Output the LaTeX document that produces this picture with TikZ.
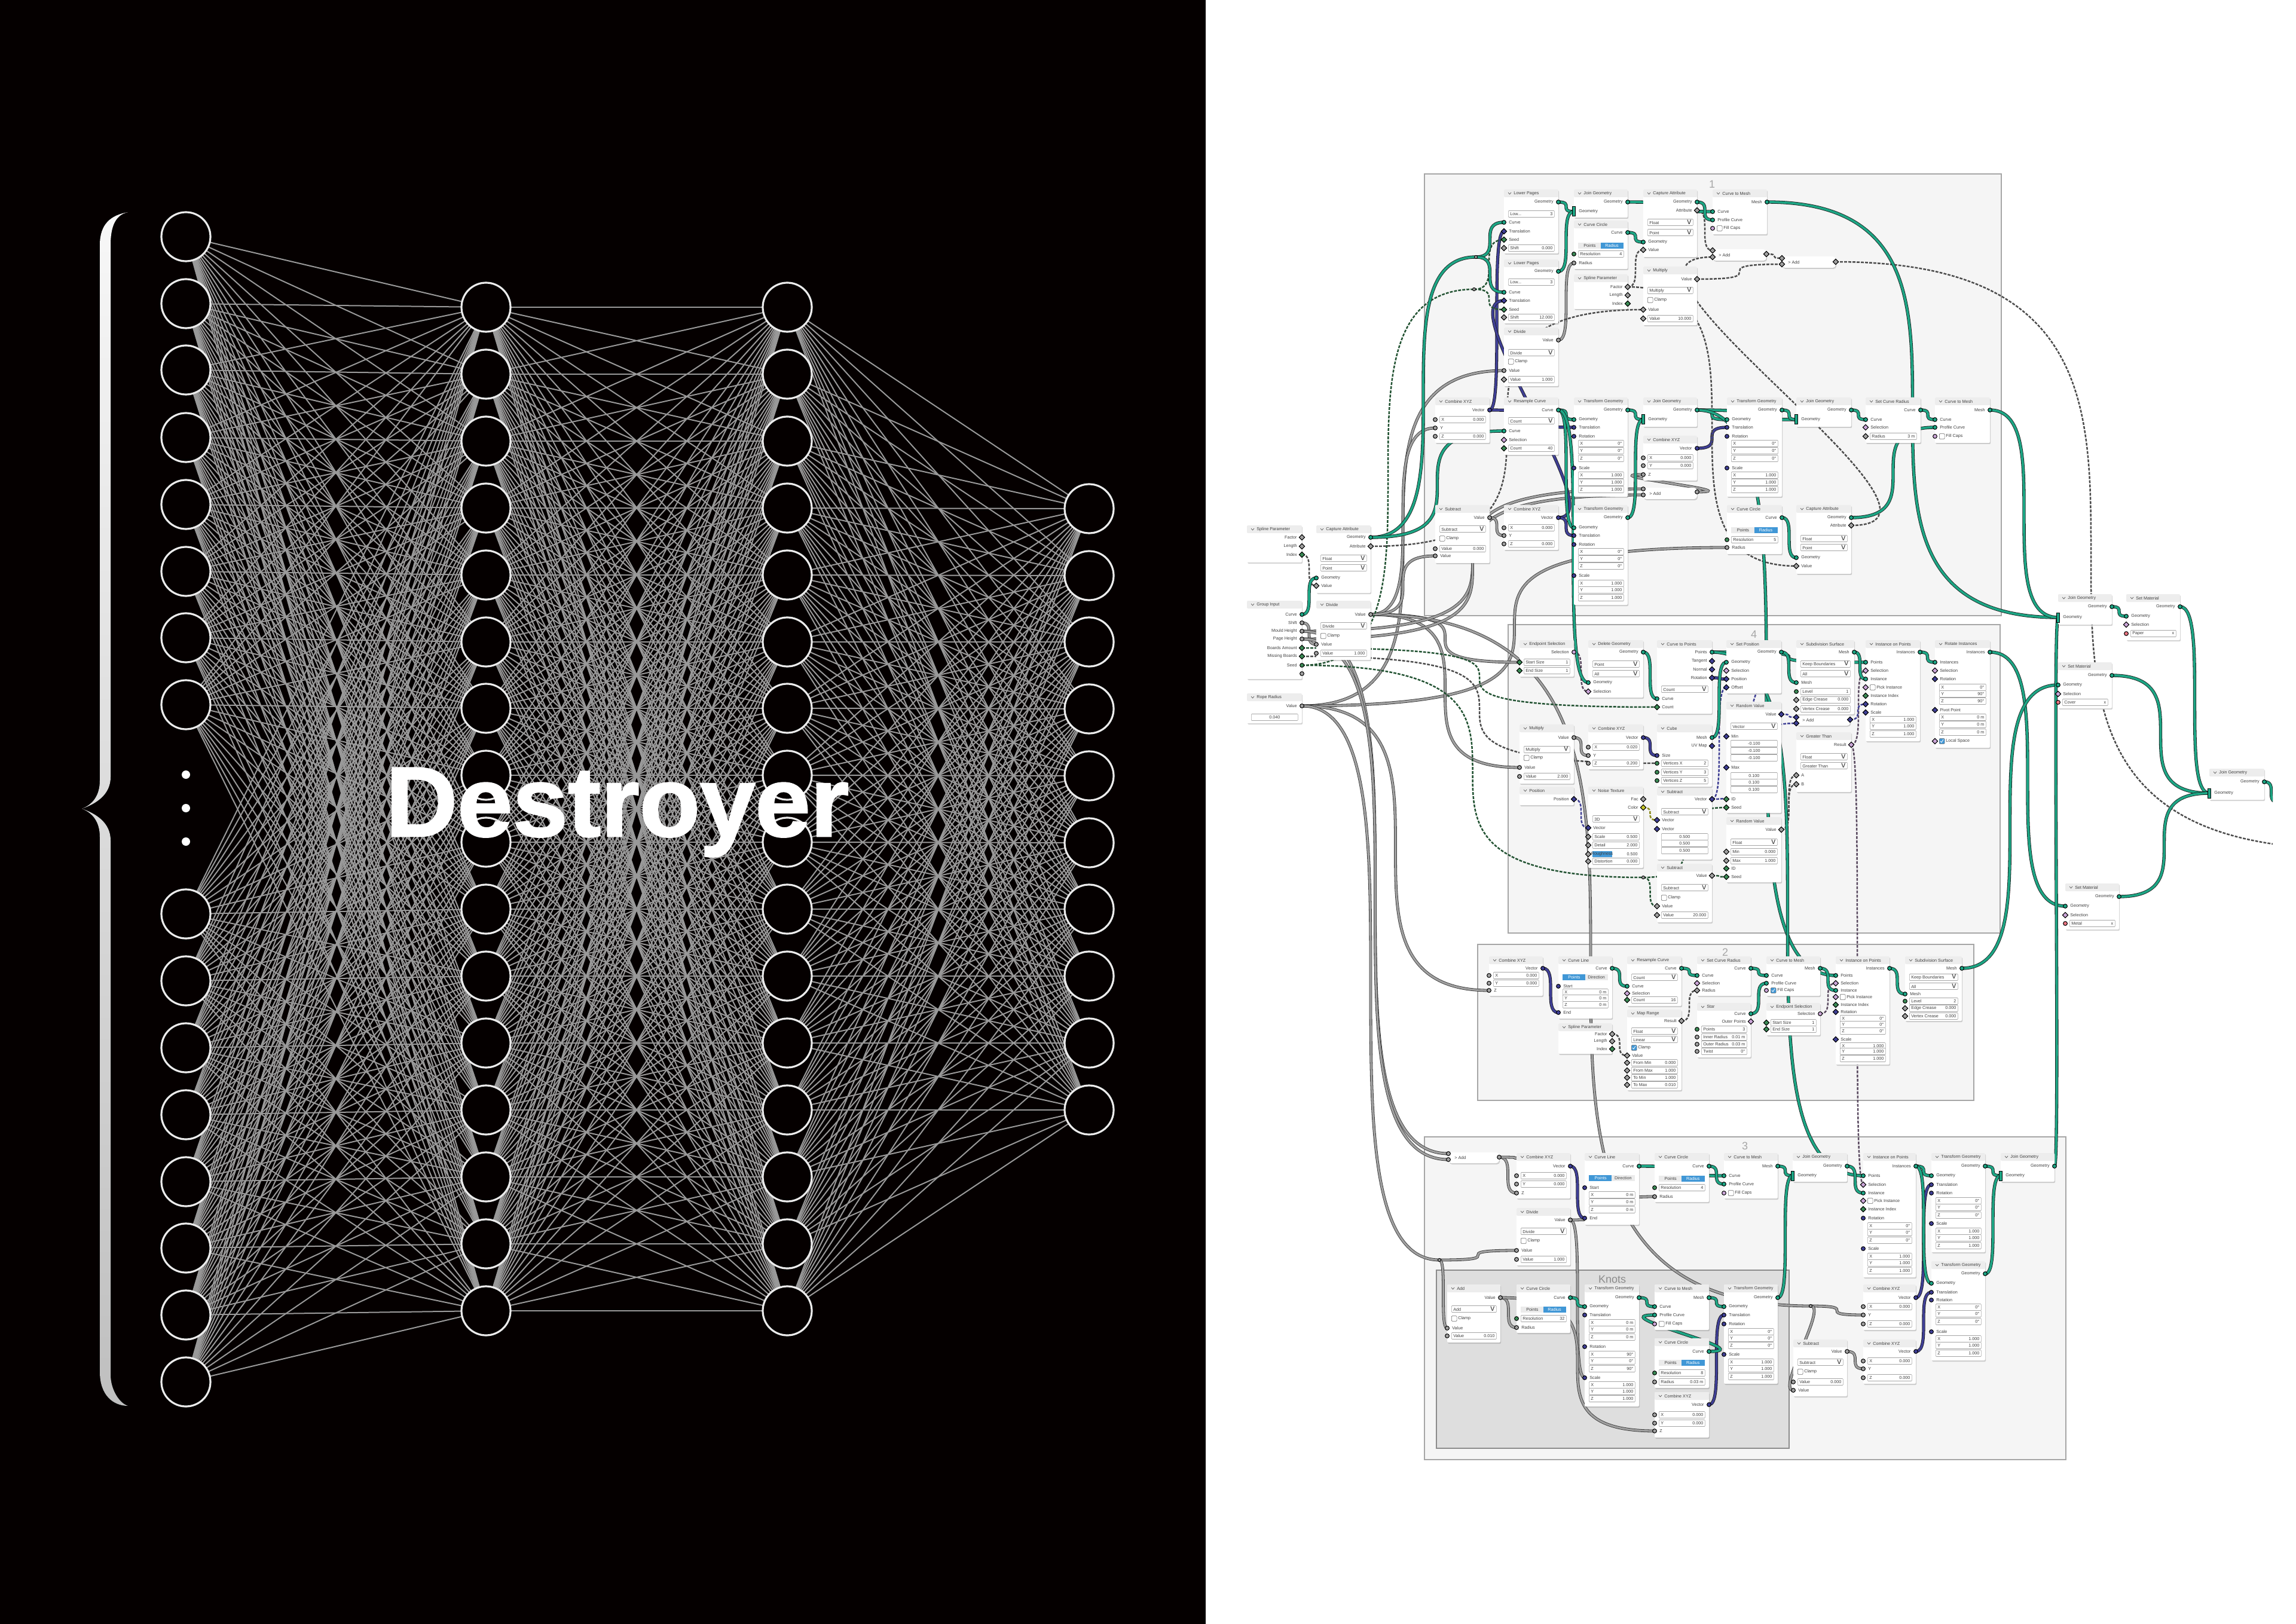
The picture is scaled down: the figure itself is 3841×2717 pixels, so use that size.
\documentclass[tikz,border=0pt]{standalone}
\usepackage{fontspec}
\setmainfont{Liberation Sans}
\newfontface\dfont[FakeBold=1.6]{Liberation Sans Bold}
\usetikzlibrary{calc, shapes.geometric, shadows}
\pgfdeclarelayer{frames}
\pgfdeclarelayer{wires}
\pgfsetlayers{frames,wires,main}

\definecolor{cgeo}{HTML}{1DA584}
\definecolor{cflo}{HTML}{A0A0A0}
\definecolor{cvec}{HTML}{3F3F95}
\definecolor{cint}{HTML}{3B8A55}
\definecolor{cboo}{HTML}{CBA6D8}
\definecolor{cmat}{HTML}{EB7582}
\definecolor{ccol}{HTML}{C7C729}
\definecolor{cblu}{HTML}{4097D6}

% one box of the node editor: name, x1, y1, x2, y2, title
\newcommand{\ndd}[6]{
    \def\gnm{#1}\def\gL{#2}\def\gR{#4}
    \pgfmathsetmacro\gw{(#4-#2-14)*.5}
    \node[gbox, minimum width={(#4-#2)*.5pt}, minimum height={(#5-#3)*.5pt}] (#1) at (#2,#3) {};
    \fill[black!7, rounded corners=1pt] (#2,#3) rectangle (#4,#3+13);
    \draw[black!70, line width=.3pt] (#2+7,#3+5) -- (#2+9.5,#3+8) -- (#2+12,#3+5);
    \node[rowt, anchor=west] (#1-t) at (#2+16,#3+6.5) {#6};
}
% collapsed box: name, x1, y1, x2, y2, title
\newcommand{\nclp}[6]{
    \def\gnm{#1}\def\gL{#2}\def\gR{#4}
    \node[gbox, rounded corners=2.5pt, minimum width={(#4-#2)*.5pt}, minimum height={(#5-#3)*.5pt}] (#1) at (#2,#3) {};
    \node[rowt, anchor=west] (#1-t) at (#2+10,{(#3+#5)/2}) {> #6};
}
\newcommand{\nout}[4]{
    \node[sk,#4] (\gnm-#1) at (\gR,#2) {};
    \node[rowt, anchor=east] (\gnm-#1-l) at (\gR-8,#2) {#3};
}
\newcommand{\ninp}[4]{
    \node[sk,#4] (\gnm-#1) at (\gL,#2) {};
    \node[rowt, anchor=west] (\gnm-#1-l) at (\gL+8,#2) {#3};
}
\newcommand{\nsok}[3]{\node[sk,#3] (\gnm-#1) at (\gL,#2) {};}
\newcommand{\nrow}[3]{
    \node[fbox] (\gnm-f#1) at (\gL+7,#1) {\makebox[\gw pt]{\kern1.5pt #2\hfill #3\kern1.5pt}};
}
\newcommand{\nfld}[5]{\nsok{#1}{#2}{#5}\nrow{#2}{#3}{#4}}
\newcommand{\ndrop}[2]{\nrow{#1}{#2}{\scriptsize v}}
\newcommand{\nxyz}[6]{\nrow{#1}{X}{#4}\nrow{#2}{Y}{#5}\nrow{#3}{Z}{#6}}
\newcommand{\nchk}[2]{
    \node[ckb] (\gnm-c#1) at (\gL+7,#1) {};
    \node[rowt, anchor=west] (\gnm-c#1-l) at (\gL+18,#1) {#2};
}
\newcommand{\nchkon}[2]{
    \node[ckb, fill=cblu] (\gnm-c#1) at (\gL+7,#1) {};
    \draw[white, line width=.4pt] (\gL+9,#1) -- (\gL+11,#1+2) -- (\gL+14,#1-3);
    \node[rowt, anchor=west] (\gnm-c#1-l) at (\gL+18,#1) {#2};
}
\newcommand{\ntab}[5]{
    \pgfmathsetmacro\hw{\gw/2}
    \node[tabb,#4,minimum width=\hw pt,anchor=west] (\gnm-tl) at (\gL+7,#1) {#2};
    \node[tabb,#5,minimum width=\hw pt,anchor=east] (\gnm-tr) at (\gR-7,#1) {#3};
}
\newcommand{\wire}[3]{\draw[#1] (#2.center) to[wire] (#3.center);}

\begin{document}
\begin{tikzpicture}[
    x=.5pt, y=-.5pt,
    panel/.style={fill=black!98!red, inner sep=0, outer sep=0, anchor=north west},
    neu/.style={circle, draw=black!8, line width=1.6pt, fill=black!98!red, minimum size=41pt, inner sep=0, outer sep=0},
    ndot/.style={circle, fill=white, minimum size=7pt, inner sep=0},
    syn/.style={draw=black!40, line width=1pt},
    frm/.style={draw=black!35, line width=1.2pt, fill=black!4, inner sep=0, anchor=north west},
    frk/.style={frm, draw=black!45, fill=black!13},
    ftxt/.style={text=black!35, font=\fontsize{9}{10}\selectfont},
    gbox/.style={anchor=north west, fill=white, rounded corners=1pt, inner sep=0, outer sep=0,
        drop shadow={shadow xshift=.6pt, shadow yshift=-1pt, opacity=.35}},
    rowt/.style={text=black!75, inner sep=0, font=\fontsize{3.6}{4}\selectfont},
    fbox/.style={rowt, anchor=west, draw=black!35, fill=white, line width=.3pt, rounded corners=.5pt, minimum height=5.5pt},
    ckb/.style={anchor=west, draw=black!60, fill=white, line width=.3pt, rounded corners=.6pt, minimum size=4.4pt, inner sep=0},
    tabb/.style={rowt, minimum height=5pt},
    tabon/.style={fill=cblu, text=white},
    taboff/.style={fill=black!8},
    sk/.style={draw=black, line width=.5pt, inner sep=0, outer sep=0},
    sgeo/.style={circle, fill=cgeo, minimum size=3.4pt},
    sjn/.style={rectangle, fill=cgeo, minimum width=2.4pt, minimum height=8pt},
    sflo/.style={circle, fill=cflo, minimum size=3.4pt},
    sint/.style={circle, fill=cint, minimum size=3.4pt},
    svec/.style={circle, fill=cvec, minimum size=3.4pt},
    sboo/.style={circle, fill=cboo, minimum size=3.4pt},
    smat/.style={circle, fill=cmat, minimum size=3.4pt},
    dflo/.style={diamond, fill=cflo, minimum size=4.6pt},
    dint/.style={diamond, fill=cint, minimum size=4.6pt},
    dvec/.style={diamond, fill=cvec, minimum size=4.6pt},
    dboo/.style={diamond, fill=cboo, minimum size=4.6pt},
    dcol/.style={diamond, fill=ccol, minimum size=4.6pt},
    rer/.style={sk, circle, fill=cflo, minimum size=2.6pt},
    wire/.style={to path={let \p1=($(\tikztotarget)-(\tikztostart)$), \n1={max(abs(\x1),5pt)} in .. controls ($(\tikztostart)+(\n1,0)$) and ($(\tikztotarget)-(\n1,0)$) .. (\tikztotarget)}},
    wgeo/.style={draw=black!90, line width=.4pt, double=cgeo, double distance=1.9pt},
    wvec/.style={draw=black!90, line width=.4pt, double=cvec, double distance=1.8pt},
    wflo/.style={draw=black!80, line width=.4pt, double=cflo, double distance=1.6pt},
    wdash/.style={line width=1.25pt, dash pattern=on 2.4pt off 1.1pt},
    wfgy/.style={wdash, draw=black!70},
    wfgr/.style={wdash, draw=cint!60!black},
    wfpu/.style={wdash, draw=cboo!45!black},
    wfin/.style={wdash, draw=cvec},
    wfye/.style={wdash, draw=ccol!70!black}
]
    \useasboundingbox (0,0) rectangle (3841,2717);

    \begin{pgfonlayer}{frames}
        \node[panel, minimum width=1008.5pt, minimum height=1358.5pt] (blackpanel) at (0,0) {};
        \node[frm, minimum width=482.5pt, minimum height=369.5pt] (frone) at (2382,290) {};
        \node[frm, minimum width=411.5pt, minimum height=258pt] (frfour) at (2522,1044) {};
        \node[frm, minimum width=415pt, minimum height=130.5pt] (frtwo) at (2471,1579) {};
        \node[frm, minimum width=536.5pt, minimum height=270pt] (frthree) at (2382,1901) {};
        \node[frk, minimum width=295pt, minimum height=149pt] (frknots) at (2402,2124) {};
    \end{pgfonlayer}
    \node[ftxt] (lblone) at (2864,308) {1};
    \node[ftxt] (lblfour) at (2934,1061) {4};
    \node[ftxt] (lbltwo) at (2886,1593) {2};
    \node[ftxt] (lblthree) at (2919,1917) {3};
    \node[ftxt, text=black!45] (lblknots) at (2697,2140) {Knots};

    % left half
    \shade[top color=black!3, bottom color=black!25] (214,355) .. controls (190,360) and (185,385) .. (185,410) -- (185,1300) .. controls (185,1330) and (160,1345) .. (137,1353) .. controls (160,1361) and (185,1376) .. (185,1406) -- (185,2300) .. controls (185,2325) and (200,2348) .. (214,2352) .. controls (190,2352) and (167,2335) .. (167,2295) -- (167,1400) .. controls (167,1375) and (155,1360) .. (137,1353) .. controls (155,1346) and (167,1331) .. (167,1306) -- (167,410) .. controls (167,375) and (185,360) .. (214,355) -- cycle;

    \foreach \y [count=\n] in {396,508,619,732,844,956,1067,1179,1529,1641,1753,1865,1977,2088,2200,2312} {
        \node[neu] (la\n) at (311,\y) {};
    }
    \foreach \y [count=\n] in {514,626,738,850,962,1074,1185,1297,1409,1521,1633,1745,1857,1969,2081,2193} {
        \node[neu] (lb\n) at (813,\y) {};
        \node[neu] (lc\n) at (1317,\y) {};
    }
    \foreach \y [count=\n] in {851,963,1074,1186,1298,1410,1521,1633,1745,1857} {
        \node[neu] (ld\n) at (1822,\y) {};
    }
    \foreach \y [count=\n] in {1296,1352,1408} {
        \node[ndot] (dot\n) at (311,\y) {};
    }
    \node[anchor=base west, inner sep=0, text=white, font=\dfont\fontsize{83}{83}\selectfont] (dtitle) at (645,1399) {Destroyer};

    % group 1
    \ndd{lpa}{2516}{317}{2607}{424}{Lower Pages}
    \nout{geo}{338}{Geometry}{sgeo}
    \nrow{358}{Low...}{3}
    \ninp{cur}{372}{Curve}{sgeo}
    \ninp{tra}{387}{Translation}{dvec}
    \ninp{see}{401}{Seed}{dint}
    \nfld{shi}{415}{Shift}{0.000}{dflo}

    \ndd{lpb}{2516}{434}{2607}{541}{Lower Pages}
    \nout{geo}{454}{Geometry}{sgeo}
    \nrow{472}{Low...}{3}
    \ninp{cur}{489}{Curve}{sgeo}
    \ninp{tra}{503}{Translation}{dvec}
    \ninp{see}{518}{Seed}{dint}
    \nfld{shi}{531}{Shift}{12.000}{dflo}

    \ndd{dva}{2516}{548}{2607}{646}{Divide}
    \nout{out}{569}{Value}{sflo}
    \ndrop{590}{Divide}
    \nchk{605}{Clamp}
    \ninp{val}{620}{Value}{sflo}
    \nfld{vab}{635}{Value}{1.000}{dflo}

    \ndd{jna}{2633}{317}{2723}{364}{Join Geometry}
    \nout{geo}{338}{Geometry}{sgeo}
    \ninp{gin}{354}{Geometry}{sjn}

    \ndd{cca}{2633}{369}{2723}{450}{Curve Circle}
    \nout{cur}{389}{Curve}{sgeo}
    \ntab{411}{Points}{Radius}{taboff}{tabon}
    \nfld{res}{425}{Resolution}{4}{sint}
    \ninp{rad}{440}{Radius}{sflo}

    \ndd{spa}{2633}{459}{2723}{517}{Spline Parameter}
    \nout{fac}{480}{Factor}{dflo}
    \nout{len}{494}{Length}{dflo}
    \nout{ind}{508}{Index}{dint}

    \ndd{caa}{2749}{317}{2839}{430}{Capture Attribute}
    \nout{geo}{338}{Geometry}{sgeo}
    \nout{att}{352}{Attribute}{dflo}
    \ndrop{372}{Float}
    \ndrop{389}{Point}
    \ninp{gin}{405}{Geometry}{sgeo}
    \ninp{val}{418}{Value}{dflo}

    \ndd{mua}{2749}{446}{2839}{544}{Multiply}
    \nout{out}{467}{Value}{dflo}
    \ndrop{486}{Multiply}
    \nchk{502}{Clamp}
    \ninp{val}{518}{Value}{dflo}
    \nfld{vab}{533}{Value}{10.000}{dflo}

    \ndd{cma}{2865}{317}{2956}{392}{Curve to Mesh}
    \nout{mes}{338}{Mesh}{sgeo}
    \ninp{cur}{354}{Curve}{sgeo}
    \ninp{pro}{368}{Profile Curve}{sgeo}
    \nsok{fil}{382}{sboo}
    \nchk{382}{Fill Caps}

    \nclp{ada}{2865}{417}{2955}{436}{Add}
    \nsok{a}{419}{dflo}
    \nsok{b}{430}{dflo}
    \nout{out}{425}{}{dflo}

    \nclp{adb}{2981}{429}{3071}{448}{Add}
    \nsok{a}{432}{dflo}
    \nsok{b}{442}{dflo}
    \nout{out}{438}{}{dflo}

    \ndd{cba}{2401}{665}{2492}{741}{Combine XYZ}
    \nout{vec}{686}{Vector}{svec}
    \nfld{x}{702}{X}{0.000}{sflo}
    \ninp{y}{716}{Y}{sflo}
    \nfld{z}{730}{Z}{0.000}{sflo}

    \ndd{rsa}{2516}{665}{2607}{761}{Resample Curve}
    \nout{cur}{686}{Curve}{sgeo}
    \ndrop{704}{Count}
    \ninp{cin}{721}{Curve}{sgeo}
    \ninp{sel}{736}{Selection}{dboo}
    \nfld{cnt}{750}{Count}{40}{dint}

    \ndd{tga}{2633}{665}{2723}{831}{Transform Geometry}
    \nout{geo}{686}{Geometry}{sgeo}
    \ninp{gin}{702}{Geometry}{sgeo}
    \ninp{tra}{715}{Translation}{svec}
    \ninp{rot}{730}{Rotation}{svec}
    \nxyz{742}{754}{767}{0°}{0°}{0°}
    \ninp{sca}{783}{Scale}{svec}
    \nxyz{795}{807}{819}{1.000}{1.000}{1.000}

    \ndd{jnb}{2749}{665}{2839}{714}{Join Geometry}
    \nout{geo}{686}{Geometry}{sgeo}
    \ninp{gin}{702}{Geometry}{sjn}

    \ndd{cbb}{2749}{729}{2839}{804}{Combine XYZ}
    \nout{vec}{750}{Vector}{svec}
    \nfld{x}{766}{X}{0.000}{sflo}
    \nfld{y}{779}{Y}{0.000}{sflo}
    \ninp{z}{794}{Z}{sflo}

    \nclp{adc}{2749}{816}{2839}{835}{Add}
    \nsok{a}{818}{sflo}
    \nsok{b}{828}{sflo}
    \nout{out}{823}{}{sflo}

    \ndd{tgb}{2889}{665}{2981}{831}{Transform Geometry}
    \nout{geo}{686}{Geometry}{sgeo}
    \ninp{gin}{702}{Geometry}{sgeo}
    \ninp{tra}{715}{Translation}{svec}
    \ninp{rot}{730}{Rotation}{svec}
    \nxyz{742}{754}{767}{0°}{0°}{0°}
    \ninp{sca}{783}{Scale}{svec}
    \nxyz{795}{807}{819}{1.000}{1.000}{1.000}

    \ndd{jnc}{3005}{665}{3097}{714}{Join Geometry}
    \nout{geo}{686}{Geometry}{sgeo}
    \ninp{gin}{702}{Geometry}{sjn}

    \ndd{sra}{3121}{665}{3213}{741}{Set Curve Radius}
    \nout{cur}{686}{Curve}{sgeo}
    \ninp{cin}{702}{Curve}{sgeo}
    \ninp{sel}{715}{Selection}{dboo}
    \nfld{rad}{730}{Radius}{3 m}{dflo}

    \ndd{cmb}{3237}{665}{3329}{741}{Curve to Mesh}
    \nout{mes}{686}{Mesh}{sgeo}
    \ninp{cur}{702}{Curve}{sgeo}
    \ninp{pro}{715}{Profile Curve}{sgeo}
    \nsok{fil}{730}{sboo}
    \nchk{730}{Fill Caps}

    \ndd{sba}{2401}{845}{2492}{942}{Subtract}
    \nout{out}{866}{Value}{sflo}
    \ndrop{885}{Subtract}
    \nchk{901}{Clamp}
    \nfld{vab}{918}{Value}{0.000}{sflo}
    \ninp{val}{930}{Value}{sflo}

    \ndd{cbc}{2516}{845}{2607}{920}{Combine XYZ}
    \nout{vec}{866}{Vector}{svec}
    \nfld{x}{883}{X}{0.000}{sflo}
    \ninp{y}{896}{Y}{sflo}
    \nfld{z}{910}{Z}{0.000}{sflo}

    \ndd{tgc}{2633}{845}{2723}{1012}{Transform Geometry}
    \nout{geo}{866}{Geometry}{sgeo}
    \ninp{gin}{883}{Geometry}{sgeo}
    \ninp{tra}{896}{Translation}{svec}
    \ninp{rot}{911}{Rotation}{svec}
    \nxyz{923}{935}{947}{0°}{0°}{0°}
    \ninp{sca}{963}{Scale}{svec}
    \nxyz{976}{987}{1000}{1.000}{1.000}{1.000}

    \ndd{ccb}{2889}{845}{2981}{927}{Curve Circle}
    \nout{cur}{866}{Curve}{sgeo}
    \ntab{887}{Points}{Radius}{taboff}{tabon}
    \nfld{res}{903}{Resolution}{5}{sint}
    \ninp{rad}{916}{Radius}{sflo}

    \ndd{cab}{3005}{845}{3097}{960}{Capture Attribute}
    \nout{geo}{866}{Geometry}{sgeo}
    \nout{att}{879}{Attribute}{dflo}
    \ndrop{901}{Float}
    \ndrop{916}{Point}
    \ninp{gin}{933}{Geometry}{sgeo}
    \ninp{val}{947}{Value}{dflo}

    % inputs on the left
    \ndd{spb}{2086}{879}{2178}{941}{Spline Parameter}
    \nout{fac}{899}{Factor}{dflo}
    \nout{len}{914}{Length}{dflo}
    \nout{ind}{928}{Index}{dint}

    \ndd{cac}{2202}{879}{2293}{992}{Capture Attribute}
    \nout{geo}{899}{Geometry}{sgeo}
    \nout{att}{914}{Attribute}{dflo}
    \ndrop{934}{Float}
    \ndrop{950}{Point}
    \ninp{gin}{967}{Geometry}{sgeo}
    \ninp{val}{980}{Value}{dflo}

    \ndd{gin}{2086}{1005}{2178}{1136}{Group Input}
    \nout{cur}{1028}{Curve}{sgeo}
    \nout{shi}{1042}{Shift}{sflo}
    \nout{mou}{1056}{Mould Height}{sflo}
    \nout{pag}{1069}{Page Height}{sflo}
    \nout{boa}{1084}{Boards Amount}{dint}
    \nout{mis}{1098}{Missing Boards}{dint}
    \nout{see}{1113}{Seed}{sint}
    \nout{emp}{1127}{}{sflo}

    \ndd{dvb}{2202}{1005}{2293}{1104}{Divide}
    \nout{out}{1028}{Value}{sflo}
    \ndrop{1047}{Divide}
    \nchk{1064}{Clamp}
    \ninp{val}{1078}{Value}{sflo}
    \nfld{vab}{1093}{Value}{1.000}{sflo}

    \ndd{rop}{2086}{1160}{2178}{1210}{Rope Radius}
    \nout{val}{1181}{Value}{sflo}
    \nrow{1200}{\hfill 0.040}{}

    % group 4
    \ndd{epa}{2542}{1071}{2633}{1132}{Endpoint Selection}
    \nout{sel}{1091}{Selection}{sboo}
    \nfld{sta}{1108}{Start Size}{1}{dint}
    \nfld{end}{1122}{End Size}{1}{dint}

    \ndd{dga}{2657}{1071}{2749}{1167}{Delete Geometry}
    \nout{geo}{1091}{Geometry}{sgeo}
    \ndrop{1111}{Point}
    \ndrop{1127}{All}
    \ninp{gin}{1142}{Geometry}{sgeo}
    \ninp{sel}{1157}{Selection}{dboo}

    \ndd{cpa}{2772}{1071}{2864}{1194}{Curve to Points}
    \nout{poi}{1091}{Points}{sgeo}
    \nout{tan}{1106}{Tangent}{dvec}
    \nout{nor}{1120}{Normal}{dvec}
    \nout{rot}{1134}{Rotation}{dvec}
    \ndrop{1153}{Count}
    \ninp{cur}{1169}{Curve}{sgeo}
    \ninp{cnt}{1183}{Count}{dint}

    \ndd{spo}{2888}{1071}{2980}{1160}{Set Position}
    \nout{geo}{1091}{Geometry}{sgeo}
    \ninp{gin}{1108}{Geometry}{sgeo}
    \ninp{sel}{1122}{Selection}{dboo}
    \ninp{pos}{1136}{Position}{dvec}
    \ninp{off}{1150}{Offset}{dvec}

    \nclp{add}{3005}{1195}{3095}{1214}{Add}
    \nsok{a}{1200}{dvec}
    \nsok{b}{1210}{dvec}
    \nout{out}{1204}{}{dvec}

    \ndd{sda}{3005}{1071}{3102}{1195}{Subdivision Surface}
    \nout{mes}{1091}{Mesh}{sgeo}
    \ndrop{1111}{Keep Boundaries}
    \ndrop{1127}{All}
    \ninp{min}{1142}{Mesh}{sgeo}
    \nfld{lev}{1157}{Level}{1}{sint}
    \nfld{edg}{1171}{Edge Crease}{0.000}{dflo}
    \nfld{ver}{1186}{Vertex Crease}{0.000}{dflo}

    \ndd{ipa}{3121}{1071}{3212}{1240}{Instance on Points}
    \nout{out}{1091}{Instances}{sgeo}
    \ninp{poi}{1108}{Points}{sgeo}
    \ninp{sel}{1122}{Selection}{dboo}
    \ninp{ins}{1136}{Instance}{sgeo}
    \nsok{pic}{1150}{dboo}
    \nchk{1150}{Pick Instance}
    \ninp{ind}{1164}{Instance Index}{dint}
    \ninp{rot}{1178}{Rotation}{dvec}
    \ninp{sca}{1192}{Scale}{dvec}
    \nxyz{1204}{1215}{1228}{1.000}{1.000}{1.000}

    \ndd{ria}{3237}{1071}{3329}{1251}{Rotate Instances}
    \nout{out}{1091}{Instances}{sgeo}
    \ninp{ins}{1108}{Instances}{sgeo}
    \ninp{sel}{1122}{Selection}{dboo}
    \ninp{rot}{1136}{Rotation}{dvec}
    \nxyz{1150}{1161}{1173}{0°}{90°}{90°}
    \ninp{piv}{1188}{Pivot Point}{dvec}
    \nxyz{1200}{1212}{1225}{0 m}{0 m}{0 m}
    \nsok{loc}{1240}{dboo}
    \nchkon{1240}{Local Space}

    \ndd{gta}{3005}{1225}{3097}{1325}{Greater Than}
    \nout{res}{1246}{Result}{dboo}
    \ndrop{1266}{Float}
    \ndrop{1281}{Greater Than}
    \ninp{a}{1297}{A}{dflo}
    \ninp{b}{1312}{B}{dflo}

    \ndd{rva}{2888}{1174}{2980}{1360}{Random Value}
    \nout{val}{1195}{Value}{dvec}
    \ndrop{1215}{Vector}
    \ninp{min}{1232}{Min}{dvec}
    \nrow{1244}{\hfill -0.100}{}
    \nrow{1256}{\hfill -0.100}{}
    \nrow{1268}{\hfill -0.100}{}
    \ninp{max}{1284}{Max}{dvec}
    \nrow{1298}{\hfill 0.100}{}
    \nrow{1309}{\hfill 0.100}{}
    \nrow{1321}{\hfill 0.100}{}
    \ninp{idn}{1337}{ID}{dint}
    \ninp{see}{1351}{Seed}{dint}

    \ndd{rvb}{2888}{1367}{2980}{1476}{Random Value}
    \nout{val}{1388}{Value}{dflo}
    \ndrop{1409}{Float}
    \nfld{min}{1425}{Min}{0.000}{dflo}
    \nfld{max}{1440}{Max}{1.000}{dflo}
    \ninp{idn}{1453}{ID}{dint}
    \ninp{see}{1467}{Seed}{dint}

    \ndd{mub}{2542}{1212}{2633}{1311}{Multiply}
    \nout{out}{1234}{Value}{sflo}
    \ndrop{1254}{Multiply}
    \nchk{1268}{Clamp}
    \ninp{val}{1284}{Value}{sflo}
    \nfld{vab}{1299}{Value}{2.000}{sflo}

    \ndd{cbd}{2657}{1212}{2749}{1287}{Combine XYZ}
    \nout{vec}{1234}{Vector}{svec}
    \nfld{x}{1250}{X}{0.020}{sflo}
    \ninp{y}{1264}{Y}{sflo}
    \nfld{z}{1277}{Z}{0.200}{sflo}

    \ndd{sbb}{2772}{1318}{2864}{1438}{Subtract}
    \nout{out}{1337}{Vector}{dvec}
    \ndrop{1358}{Subtract}
    \ninp{vea}{1372}{Vector}{dvec}
    \ninp{veb}{1387}{Vector}{dvec}
    \nrow{1400}{\hfill 0.500}{}
    \nrow{1411}{\hfill 0.500}{}
    \nrow{1423}{\hfill 0.500}{}

    \ndd{cub}{2772}{1212}{2864}{1316}{Cube}
    \nout{mes}{1234}{Mesh}{sgeo}
    \nout{uvm}{1248}{UV Map}{dvec}
    \ninp{siz}{1264}{Size}{svec}
    \nfld{vx}{1277}{Vertices X}{2}{sint}
    \nfld{vy}{1292}{Vertices Y}{3}{sint}
    \nfld{vz}{1306}{Vertices Z}{5}{sint}

    \ndd{pos}{2542}{1316}{2633}{1347}{Position}
    \nout{pos}{1337}{Position}{dvec}

    \ndd{noi}{2657}{1316}{2749}{1452}{Noise Texture}
    \nout{fac}{1337}{Fac}{dflo}
    \nout{col}{1351}{Color}{dcol}
    \ndrop{1370}{3D}
    \ninp{vec}{1385}{Vector}{dvec}
    \nfld{sca}{1400}{Scale}{0.500}{dflo}
    \nfld{det}{1414}{Detail}{2.000}{dflo}
    \fill[cblu] (2664,1424) rectangle (2697,1434);
    \nsok{rou}{1429}{dflo}
    \node[rowt] (noi-rt) at (2680,1429) {Roughness};
    \node[rowt, anchor=east] (noi-rv) at (2740,1429) {0.500};
    \nfld{dis}{1441}{Distortion}{0.000}{dflo}

    \ndd{sbc}{2772}{1445}{2864}{1543}{Subtract}
    \nout{out}{1465}{Value}{dflo}
    \ndrop{1485}{Subtract}
    \nchk{1502}{Clamp}
    \ninp{val}{1516}{Value}{dflo}
    \nfld{vab}{1531}{Value}{20.000}{dflo}

    % group 2
    \ndd{cbe}{2491}{1600}{2581}{1666}{Combine XYZ}
    \nout{vec}{1620}{Vector}{svec}
    \nfld{x}{1632}{X}{0.000}{sflo}
    \nfld{y}{1645}{Y}{0.000}{sflo}
    \ninp{z}{1657}{Z}{sflo}

    \ndd{cla}{2607}{1600}{2697}{1704}{Curve Line}
    \nout{cur}{1620}{Curve}{sgeo}
    \ntab{1635}{Points}{Direction}{tabon}{taboff}
    \ninp{sta}{1650}{Start}{svec}
    \nxyz{1660}{1670}{1681}{0 m}{0 m}{0 m}
    \ninp{end}{1694}{End}{svec}

    \ndd{spc}{2607}{1712}{2697}{1763}{Spline Parameter}
    \nout{fac}{1730}{Factor}{dflo}
    \nout{len}{1742}{Length}{dflo}
    \nout{ind}{1755}{Index}{dint}

    \ndd{rsb}{2722}{1600}{2813}{1683}{Resample Curve}
    \nout{cur}{1620}{Curve}{sgeo}
    \ndrop{1635}{Count}
    \ninp{cin}{1650}{Curve}{sgeo}
    \ninp{sel}{1662}{Selection}{dboo}
    \nfld{cnt}{1673}{Count}{16}{dint}

    \ndd{mra}{2722}{1689}{2813}{1824}{Map Range}
    \nout{res}{1708}{Result}{dflo}
    \ndrop{1725}{Float}
    \ndrop{1739}{Linear}
    \nchkon{1753}{Clamp}
    \ninp{val}{1766}{Value}{dflo}
    \nfld{fmi}{1778}{From Min}{0.000}{dflo}
    \nfld{fma}{1791}{From Max}{1.000}{dflo}
    \nfld{tmi}{1803}{To Min}{1.000}{dflo}
    \nfld{tma}{1815}{To Max}{0.010}{dflo}

    \ndd{srb}{2839}{1600}{2929}{1666}{Set Curve Radius}
    \nout{cur}{1620}{Curve}{sgeo}
    \ninp{cin}{1632}{Curve}{sgeo}
    \ninp{sel}{1645}{Selection}{dboo}
    \ninp{rad}{1657}{Radius}{dflo}

    \ndd{sta}{2839}{1678}{2929}{1769}{Star}
    \nout{cur}{1696}{Curve}{sgeo}
    \nout{out}{1709}{Outer Points}{dboo}
    \nfld{poi}{1722}{Points}{3}{sint}
    \nfld{inn}{1735}{Inner Radius}{0.01 m}{sflo}
    \nfld{oru}{1747}{Outer Radius}{0.03 m}{sflo}
    \nfld{twi}{1759}{Twist}{0°}{sflo}

    \ndd{cmc}{2955}{1600}{3045}{1666}{Curve to Mesh}
    \nout{mes}{1620}{Mesh}{sgeo}
    \ninp{cur}{1632}{Curve}{sgeo}
    \ninp{pro}{1645}{Profile Curve}{sgeo}
    \nsok{fil}{1657}{sboo}
    \nchkon{1657}{Fill Caps}

    \ndd{epb}{2955}{1678}{3045}{1732}{Endpoint Selection}
    \nout{sel}{1696}{Selection}{sboo}
    \nfld{sta}{1711}{Start Size}{1}{dint}
    \nfld{end}{1722}{End Size}{1}{dint}

    \ndd{ipb}{3071}{1600}{3161}{1781}{Instance on Points}
    \nout{out}{1620}{Instances}{sgeo}
    \ninp{poi}{1632}{Points}{sgeo}
    \ninp{sel}{1645}{Selection}{dboo}
    \ninp{ins}{1657}{Instance}{sgeo}
    \nsok{pic}{1668}{dboo}
    \nchk{1668}{Pick Instance}
    \ninp{ind}{1681}{Instance Index}{dint}
    \ninp{rot}{1693}{Rotation}{dvec}
    \nxyz{1704}{1714}{1725}{0°}{0°}{0°}
    \ninp{sca}{1739}{Scale}{dvec}
    \nxyz{1750}{1759}{1771}{1.000}{1.000}{1.000}

    \ndd{sdb}{3187}{1600}{3282}{1708}{Subdivision Surface}
    \nout{mes}{1620}{Mesh}{sgeo}
    \ndrop{1635}{Keep Boundaries}
    \ndrop{1650}{All}
    \ninp{min}{1663}{Mesh}{sgeo}
    \nfld{lev}{1675}{Level}{2}{sint}
    \nfld{edg}{1687}{Edge Crease}{0.000}{dflo}
    \nfld{ver}{1700}{Vertex Crease}{0.000}{dflo}

    % group 3
    \nclp{ade}{2423}{1928}{2508}{1946}{Add}
    \nsok{a}{1930}{sflo}
    \nsok{b}{1940}{sflo}
    \nout{out}{1936}{}{sflo}

    \ndd{cbf}{2537}{1929}{2627}{2005}{Combine XYZ}
    \nout{vec}{1951}{Vector}{svec}
    \nfld{x}{1967}{X}{0.000}{sflo}
    \nfld{y}{1981}{Y}{0.000}{sflo}
    \ninp{z}{1996}{Z}{sflo}

    \ndd{clb}{2651}{1929}{2742}{2049}{Curve Line}
    \nout{cur}{1951}{Curve}{sgeo}
    \ntab{1971}{Points}{Direction}{tabon}{taboff}
    \ninp{sta}{1987}{Start}{svec}
    \nxyz{1999}{2011}{2024}{0 m}{0 m}{0 m}
    \ninp{end}{2038}{End}{svec}

    \ndd{ccc}{2768}{1929}{2859}{2011}{Curve Circle}
    \nout{cur}{1951}{Curve}{sgeo}
    \ntab{1972}{Points}{Radius}{taboff}{tabon}
    \nfld{res}{1987}{Resolution}{4}{sint}
    \ninp{rad}{2002}{Radius}{sflo}

    \ndd{cmd}{2884}{1929}{2974}{2005}{Curve to Mesh}
    \nout{mes}{1951}{Mesh}{sgeo}
    \ninp{cur}{1967}{Curve}{sgeo}
    \ninp{pro}{1981}{Profile Curve}{sgeo}
    \nsok{fil}{1996}{sboo}
    \nchk{1996}{Fill Caps}

    \ndd{jnd}{2999}{1929}{3090}{1977}{Join Geometry}
    \nout{geo}{1951}{Geometry}{sgeo}
    \ninp{gin}{1967}{Geometry}{sjn}

    \ndd{ipc}{3117}{1929}{3205}{2137}{Instance on Points}
    \nout{out}{1951}{Instances}{sgeo}
    \ninp{poi}{1967}{Points}{sgeo}
    \ninp{sel}{1982}{Selection}{dboo}
    \ninp{ins}{1996}{Instance}{sgeo}
    \nsok{pic}{2009}{dboo}
    \nchk{2009}{Pick Instance}
    \ninp{ind}{2023}{Instance Index}{dint}
    \ninp{rot}{2038}{Rotation}{svec}
    \nxyz{2051}{2062}{2075}{0°}{0°}{0°}
    \ninp{sca}{2089}{Scale}{svec}
    \nxyz{2102}{2113}{2126}{1.000}{1.000}{1.000}

    \ndd{tgd}{3231}{1929}{3321}{2095}{Transform Geometry}
    \nout{geo}{1951}{Geometry}{sgeo}
    \ninp{gin}{1967}{Geometry}{sgeo}
    \ninp{tra}{1982}{Translation}{svec}
    \ninp{rot}{1996}{Rotation}{svec}
    \nxyz{2009}{2020}{2033}{0°}{0°}{0°}
    \ninp{sca}{2047}{Scale}{svec}
    \nxyz{2060}{2071}{2084}{1.000}{1.000}{1.000}

    \ndd{jne}{3347}{1929}{3437}{1977}{Join Geometry}
    \nout{geo}{1951}{Geometry}{sgeo}
    \ninp{gin}{1967}{Geometry}{sjn}

    \ndd{dvc}{2537}{2021}{2627}{2117}{Divide}
    \nout{out}{2041}{Value}{sflo}
    \ndrop{2060}{Divide}
    \nchk{2076}{Clamp}
    \ninp{val}{2092}{Value}{sflo}
    \nfld{vab}{2107}{Value}{1.000}{sflo}

    \ndd{tge}{3231}{2110}{3321}{2276}{Transform Geometry}
    \nout{geo}{2131}{Geometry}{sgeo}
    \ninp{gin}{2147}{Geometry}{sgeo}
    \ninp{tra}{2162}{Translation}{svec}
    \ninp{rot}{2175}{Rotation}{svec}
    \nxyz{2187}{2198}{2211}{0°}{0°}{0°}
    \ninp{sca}{2228}{Scale}{svec}
    \nxyz{2240}{2251}{2264}{1.000}{1.000}{1.000}

    \ndd{cbg}{3117}{2149}{3205}{2225}{Combine XYZ}
    \nout{vec}{2171}{Vector}{svec}
    \nfld{x}{2186}{X}{0.000}{sflo}
    \ninp{y}{2200}{Y}{sflo}
    \nfld{z}{2215}{Z}{0.000}{sflo}

    \ndd{cbh}{3117}{2241}{3205}{2315}{Combine XYZ}
    \nout{vec}{2261}{Vector}{svec}
    \nfld{x}{2277}{X}{0.000}{sflo}
    \ninp{y}{2290}{Y}{sflo}
    \nfld{z}{2305}{Z}{0.000}{sflo}

    \ndd{sbd}{3000}{2241}{3090}{2336}{Subtract}
    \nout{out}{2261}{Value}{sflo}
    \ndrop{2279}{Subtract}
    \nchk{2295}{Clamp}
    \nfld{vab}{2312}{Value}{0.000}{sflo}
    \ninp{val}{2326}{Value}{sflo}

    % knots
    \ndd{adf}{2421}{2149}{2510}{2246}{Add}
    \nout{out}{2171}{Value}{sflo}
    \ndrop{2190}{Add}
    \nchk{2206}{Clamp}
    \ninp{val}{2222}{Value}{sflo}
    \nfld{vab}{2235}{Value}{0.010}{sflo}

    \ndd{ccd}{2537}{2149}{2627}{2230}{Curve Circle}
    \nout{cur}{2171}{Curve}{sgeo}
    \ntab{2191}{Points}{Radius}{taboff}{tabon}
    \nfld{res}{2206}{Resolution}{32}{sint}
    \ninp{rad}{2221}{Radius}{sflo}

    \ndd{tgf}{2651}{2149}{2742}{2353}{Transform Geometry}
    \nout{geo}{2171}{Geometry}{sgeo}
    \ninp{gin}{2186}{Geometry}{sgeo}
    \ninp{tra}{2200}{Translation}{svec}
    \nxyz{2213}{2224}{2237}{0 m}{0 m}{0 m}
    \ninp{rot}{2253}{Rotation}{svec}
    \nxyz{2266}{2277}{2290}{90°}{0°}{90°}
    \ninp{sca}{2305}{Scale}{svec}
    \nxyz{2317}{2328}{2340}{1.000}{1.000}{1.000}

    \ndd{cme}{2768}{2149}{2859}{2225}{Curve to Mesh}
    \nout{mes}{2171}{Mesh}{sgeo}
    \ninp{cur}{2186}{Curve}{sgeo}
    \ninp{pro}{2200}{Profile Curve}{sgeo}
    \nsok{fil}{2215}{sboo}
    \nchk{2215}{Fill Caps}

    \ndd{cce}{2768}{2239}{2859}{2322}{Curve Circle}
    \nout{cur}{2261}{Curve}{sgeo}
    \ntab{2280}{Points}{Radius}{taboff}{tabon}
    \nfld{res}{2297}{Resolution}{8}{sint}
    \nfld{rad}{2312}{Radius}{0.03 m}{sflo}

    \ndd{cbi}{2768}{2329}{2859}{2405}{Combine XYZ}
    \nout{vec}{2350}{Vector}{svec}
    \nfld{x}{2367}{X}{0.000}{sflo}
    \nfld{y}{2381}{Y}{0.000}{sflo}
    \ninp{z}{2394}{Z}{sflo}

    \ndd{tgg}{2884}{2149}{2974}{2315}{Transform Geometry}
    \nout{geo}{2171}{Geometry}{sgeo}
    \ninp{gin}{2186}{Geometry}{sgeo}
    \ninp{tra}{2200}{Translation}{svec}
    \ninp{rot}{2215}{Rotation}{svec}
    \nxyz{2228}{2239}{2251}{0°}{0°}{0°}
    \ninp{sca}{2266}{Scale}{svec}
    \nxyz{2279}{2290}{2303}{1.000}{1.000}{1.000}

    % output side
    \ndd{jnr}{3443}{994}{3533}{1045}{Join Geometry}
    \nout{geo}{1015}{Geometry}{sgeo}
    \ninp{gin}{1033}{Geometry}{sjn}

    \ndd{sma}{3557}{994}{3647}{1071}{Set Material}
    \nout{geo}{1015}{Geometry}{sgeo}
    \ninp{gin}{1031}{Geometry}{sgeo}
    \ninp{sel}{1045}{Selection}{dboo}
    \nfld{mat}{1060}{Paper}{x}{smat}

    \ndd{smb}{3443}{1108}{3533}{1185}{Set Material}
    \nout{geo}{1130}{Geometry}{sgeo}
    \ninp{gin}{1146}{Geometry}{sgeo}
    \ninp{sel}{1161}{Selection}{dboo}
    \nfld{mat}{1175}{Cover}{x}{smat}

    \ndd{smc}{3455}{1478}{3545}{1555}{Set Material}
    \nout{geo}{1500}{Geometry}{sgeo}
    \ninp{gin}{1516}{Geometry}{sgeo}
    \ninp{sel}{1531}{Selection}{dboo}
    \nfld{mat}{1545}{Metal}{x}{smat}

    \ndd{jnf}{3696}{1286}{3788}{1338}{Join Geometry}
    \nout{geo}{1308}{Geometry}{sgeo}
    \ninp{gin}{1327}{Geometry}{sjn}

    % reroutes and free ends
    \node[rer] (rra) at (2469,430) {};
    \node[rer] (rrb) at (2466,484) {};
    \node[rer] (rrs) at (2749,1468) {};
    \node[rer] (rrz) at (3029,2185) {};
    \node[rer] (rrk) at (2408,2108) {};
    \coordinate (frx) at (3925,1420);
    \coordinate (fry) at (3811,1342);
    \coordinate (frb) at (2936,1150);
    \coordinate (frc) at (2936,1180);
    \coordinate (frd) at (2560,1938);

    \begin{pgfonlayer}{wires}
    % the mesh of the left half
    \foreach \i in {1,...,16} {
        \foreach \j in {1,...,16} {
            \draw[syn] (la\i) -- (lb\j);
            \draw[syn] (lb\i) -- (lc\j);
        }
        \foreach \j in {1,...,10} {
            \draw[syn] (lc\i) -- (ld\j);
        }
    }
    \begin{scope}
    \clip (2020,0) rectangle (3802,2717);
    % grey
    \foreach \a/\b in {rop-val/dva-val, rop-val/ccb-rad, rop-val/cbe-z, rop-val/rrk, rrk/dvc-val, rrk/adf-val,
        dvb-out/epa-sta, dvb-out/mub-val, dvb-out/rrz, dvb-out/cba-y, dvb-out/sba-val, rrz/cbg-y, rrz/sbd-val,
        sbd-out/cbh-y, gin-shi/dvb-val, gin-mou/adc-a, gin-pag/adc-b, gin-mou/ade-a, gin-pag/ade-b,
        adc-out/cbb-z, ade-out/cbf-z, ade-out/frd, dva-out/cca-rad, sba-out/cbc-y, mub-out/cbd-y,
        dvc-out/tgf-sca, dvc-out/ccc-rad, adf-out/ccd-rad, adf-out/cbi-z} {
        \wire{wflo}{\a}{\b}
    }
    % vectors
    \foreach \a/\b in {cba-vec/tga-tra, cba-vec/lpa-tra, cbc-vec/lpb-tra, cbc-vec/tgc-tra, cbb-vec/tgb-tra,
        cbd-vec/cub-siz, cbe-vec/cla-end, cbf-vec/clb-end, cbg-vec/tgd-tra, cbh-vec/tge-tra, cbi-vec/tgg-tra,
        cpa-rot/spo-pos} {
        \wire{wvec}{\a}{\b}
    }
    % fields
    \foreach \a/\b in {gin-see/rrb, rrb/lpa-see, rrb/lpb-see, gin-see/rrs, rrs/sbc-val, rrs/rva-see, sbc-out/rvb-see, gin-boa/cpa-cnt} {
        \wire{wfgr}{\a}{\b}
    }
    \foreach \a/\b in {gin-mis/cub-vx, spb-ind/cac-val, spa-fac/caa-val, spa-fac/cab-val, cac-att/mua-val, mua-out/adb-b,
        caa-att/ada-a, cab-att/ada-b, ada-out/adb-a, adb-out/frx, rvb-val/gta-a, rvb-val/gta-b, spc-fac/mra-val, mra-res/srb-rad} {
        \wire{wfgy}{\a}{\b}
    }
    \foreach \a/\b in {epa-sel/dga-sel, epb-sel/ipb-sel, gta-res/ipa-sel, gta-res/ipc-sel} {
        \wire{wfpu}{\a}{\b}
    }
    \foreach \a/\b in {pos-pos/noi-vec, sbb-out/spo-off, rva-val/add-a, sbb-out/add-b, add-out/ipa-rot, frb/frc} {
        \wire{wfin}{\a}{\b}
    }
    \wire{wfye}{noi-col}{sbb-vea}
    % geometry
    \foreach \a/\b in {gin-cur/cac-gin, cac-geo/rra, rra/lpa-cur, rra/lpb-cur, cac-geo/rsa-cin, lpa-geo/jna-gin, lpb-geo/jna-gin,
        jna-geo/cma-cur, cca-cur/caa-gin, caa-geo/cma-pro, cma-mes/jnr-gin, rsa-cur/tga-gin, rsa-cur/tgc-gin, rsa-cur/dga-gin,
        tga-geo/jnb-gin, tgc-geo/jnb-gin, jnb-geo/tgb-gin, jnb-geo/jnc-gin, jnb-geo/ipb-poi, tgb-geo/jnc-gin, jnc-geo/sra-cin,
        sra-cur/cmb-cur, ccb-cur/cab-gin, cab-geo/cmb-pro, cmb-mes/jnr-gin, dga-geo/cpa-cur, cpa-poi/ipa-poi, cpa-poi/ipc-poi,
        cub-mes/spo-gin, spo-geo/sda-min, sda-mes/ipa-ins, ipa-out/ria-ins, ria-out/smc-gin, cla-cur/rsb-cin, rsb-cur/srb-cin,
        srb-cur/cmc-cur, sta-cur/cmc-pro, cmc-mes/ipb-ins, ipb-out/sdb-min, sdb-mes/smb-gin, clb-cur/cmd-cur, ccc-cur/cmd-pro,
        cmd-mes/jnd-gin, tgg-geo/jnd-gin, jnd-geo/ipc-ins, ipc-out/tgd-gin, ipc-out/tge-gin, tgd-geo/jne-gin, tge-geo/jne-gin,
        jne-geo/jnr-gin, ccd-cur/tgf-gin, tgf-geo/cme-cur, cce-cur/cme-pro, cme-mes/tgg-gin, jnr-geo/sma-gin, sma-geo/jnf-gin,
        smb-geo/jnf-gin, smc-geo/jnf-gin, jnf-geo/fry} {
        \wire{wgeo}{\a}{\b}
    }
    \end{scope}
    \end{pgfonlayer}
\end{tikzpicture}
\end{document}
